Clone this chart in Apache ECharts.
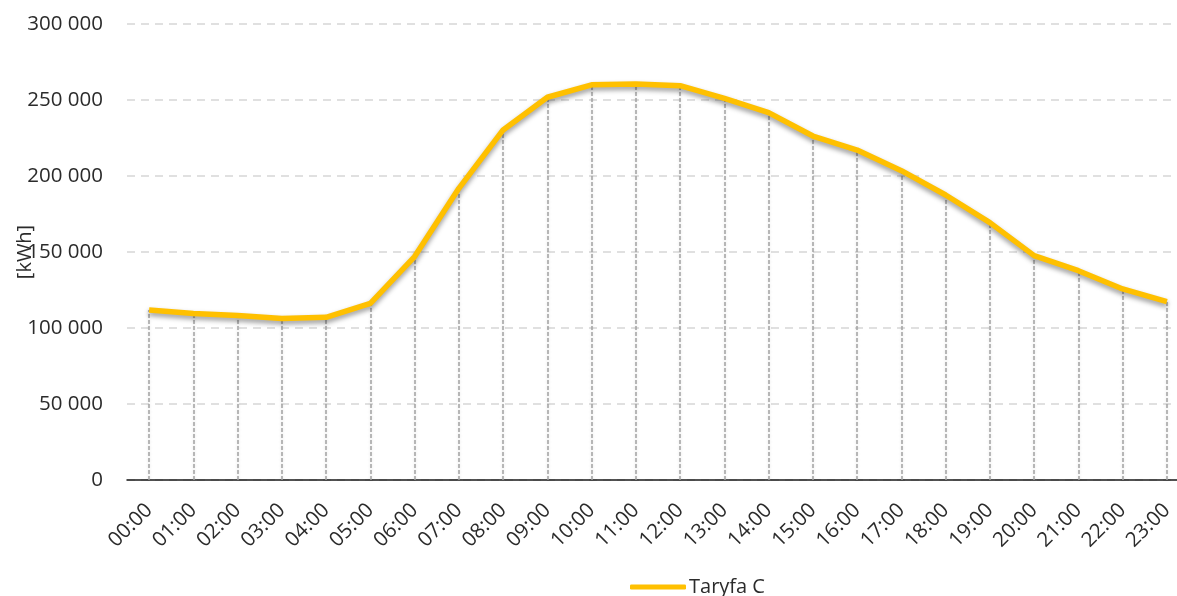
<!DOCTYPE html>
<html>
<head>
<meta charset="utf-8">
<title>Taryfa C</title>
<script src="https://cdn.jsdelivr.net/npm/echarts@6/dist/echarts.min.js"></script>
<style>
  html, body { margin: 0; padding: 0; background: #ffffff; }
  #chart { width: 1177px; height: 596px; }
</style>
</head>
<body>
<div id="chart"></div>
<script>
// Hourly energy use, tariff C
const hours = ['00:00','01:00','02:00','03:00','04:00','05:00','06:00','07:00','08:00','09:00','10:00','11:00',
               '12:00','13:00','14:00','15:00','16:00','17:00','18:00','19:00','20:00','21:00','22:00','23:00'];
const taryfaC = [111800, 109600, 108300, 106200, 107000, 116200, 147000, 191900, 230300, 251800, 260000, 260500,
                 259400, 251100, 241700, 226300, 217100, 203500, 187500, 169300, 147600, 137700, 125700, 117300];
const yTicks = { min: 0, max: 300000, interval: 50000 };
const seriesName = 'Taryfa C';
const unitLabel = '[kWh]';

const FONT = 'Open Sans';
const TEXT = '#2b2b2b';

function fmt(v) {
  return String(v).replace(/\B(?=(\d{3})+(?!\d))/g, ' ');
}

// vertical drop lines from each point down to the axis
const dropLines = taryfaC.map((v, i) => [{ coord: [i, 0] }, { coord: [i, v] }]);

const chart = echarts.init(document.getElementById('chart'), null, { renderer: 'canvas' });
chart.setOption({
  animation: false,
  backgroundColor: '#ffffff',
  grid: { left: 127, top: 24, right: -12, height: 456, containLabel: false, outerBoundsMode: 'none' },
  legend: {
    data: [{ name: seriesName, icon: 'roundRect' }],
    bottom: -6,
    left: 625,
    itemWidth: 56,
    itemHeight: 5,
    itemGap: 4,
    itemStyle: { color: '#FFC000' },
    textStyle: { fontFamily: FONT, fontSize: 20, color: TEXT, padding: [0, 0, 0, -2] }
  },
  xAxis: {
    type: 'category',
    data: hours,
    boundaryGap: true,
    axisLine: { show: true, lineStyle: { color: '#1a1a1a', width: 1.5 } },
    axisTick: { show: false },
    axisLabel: { rotate: 45, margin: 27, fontFamily: FONT, fontSize: 20.5, color: TEXT },
    splitLine: { show: false }
  },
  yAxis: {
    type: 'value',
    min: yTicks.min,
    max: yTicks.max,
    interval: yTicks.interval,
    name: unitLabel,
    nameLocation: 'middle',
    nameGap: 92,
    nameRotate: 90,
    nameMoveOverlap: false,
    nameTextStyle: { fontFamily: FONT, fontSize: 20, color: TEXT },
    axisLine: { show: false },
    axisTick: { show: false },
    axisLabel: { margin: 24, fontFamily: FONT, fontSize: 20.5, color: TEXT, formatter: fmt },
    splitLine: { show: true, lineStyle: { color: '#d6d6d6', width: 1.5, type: [8, 6] } }
  },
  series: [{
    name: seriesName,
    type: 'line',
    data: taryfaC,
    symbol: 'none',
    smooth: false,
    z: 5,
    lineStyle: {
      color: '#FFC000', width: 5.5,
      shadowColor: 'rgba(0,0,0,0.4)', shadowBlur: 5, shadowOffsetY: 3
    },
    itemStyle: { color: '#FFC000' },
    markLine: {
      silent: true,
      symbol: ['none', 'none'],
      label: { show: false },
      z: 2,
      lineStyle: {
        color: '#a3a3a3', width: 1.5, type: [4, 2],
        shadowColor: 'rgba(0,0,0,0.15)', shadowBlur: 3
      },
      data: dropLines
    }
  }]
});
</script>
</body>
</html>
